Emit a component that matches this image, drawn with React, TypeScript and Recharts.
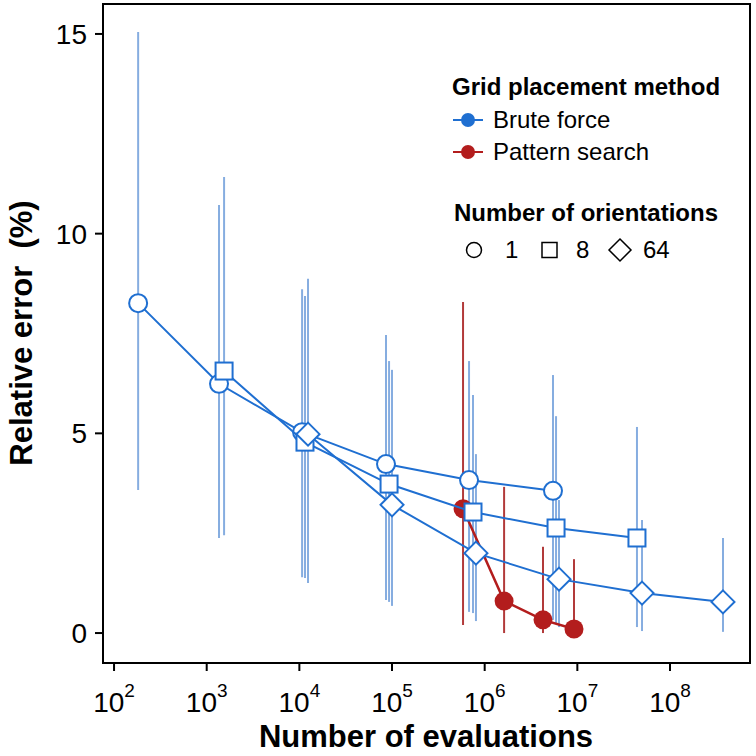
import { ScatterChart, Scatter, XAxis, YAxis, ErrorBar, Legend, ReferenceArea } from 'recharts';

const FONT = '"Liberation Sans", Arial, sans-serif';
const BLUE = '#1f6fd1';
const WHISKER_BLUE = '#86ade0';
const RED = '#b31d1d';
const WHISKER_RED = '#b23a3a';

// axis ranges (log10 x from ~1.88 to ~8.86)
const xDomain = [76, 7.3e8];
const xTicks = [1e2, 1e3, 1e4, 1e5, 1e6, 1e7, 1e8];
const yDomain = [-0.75, 15.75];
const yTicks = [0, 5, 10, 15];

// brute force, 1 orientation
const orient1X = [182, 1358, 10700, 86100, 678000, 5460000];
const orient1Y = [8.26, 6.24, 5.03, 4.23, 3.83, 3.56];
const orient1Lo = [3.58, 2.38, 1.4, 0.83, 0.53, 0.33];
const orient1Hi = [15.05, 10.72, 8.61, 7.46, 6.81, 6.46];

// brute force, 8 orientations
const orient8X = [1540, 11500, 92900, 748000, 5890000, 44000000];
const orient8Y = [6.56, 4.78, 3.73, 3.03, 2.63, 2.38];
const orient8Lo = [2.45, 1.38, 0.78, 0.5, 0.25, 0.15];
const orient8Hi = [11.42, 8.44, 6.81, 5.96, 5.43, 5.16];

// brute force, 64 orientations
const orient64X = [12400, 100000, 805000, 6340000, 49900000, 373000000];
const orient64Y = [4.98, 3.21, 2.0, 1.35, 1.0, 0.78];
const orient64Lo = [1.25, 0.68, 0.3, 0.15, 0.05, 0.03];
const orient64Hi = [8.87, 6.59, 4.48, 3.33, 2.83, 2.38];

// pattern search
const patternX = [584000, 1620000, 4260000, 9200000];
const patternY = [3.11, 0.8, 0.33, 0.1];
const patternLo = [0.2, 0.0, 0.0, 0.08];
const patternHi = [8.29, 3.66, 2.16, 1.85];

const toRows = (xs: number[], ys: number[], lo: number[], hi: number[]) =>
  xs.map((x, i) => ({ x, y: ys[i], err: [ys[i] - lo[i], hi[i] - ys[i]] }));

const rows1 = toRows(orient1X, orient1Y, orient1Lo, orient1Hi);
const rows8 = toRows(orient8X, orient8Y, orient8Lo, orient8Hi);
const rows64 = toRows(orient64X, orient64Y, orient64Lo, orient64Hi);
const rowsPattern = toRows(patternX, patternY, patternLo, patternHi);

const noShape = () => <g />;
const hollowCircle = (p: any) => <circle cx={p.cx} cy={p.cy} r={9} fill="#fff" stroke={BLUE} strokeWidth={2} />;
const hollowSquare = (p: any) => (
  <rect x={p.cx - 8.5} y={p.cy - 8.5} width={17} height={17} fill="#fff" stroke={BLUE} strokeWidth={2} />
);
const hollowDiamond = (p: any) => (
  <polygon
    points={`${p.cx},${p.cy - 11.5} ${p.cx + 11.5},${p.cy} ${p.cx},${p.cy + 11.5} ${p.cx - 11.5},${p.cy}`}
    fill="#fff" stroke={BLUE} strokeWidth={2}
  />
);
const filledRed = (p: any) => <circle cx={p.cx} cy={p.cy} r={9.5} fill={RED} />;

const XTick = ({ x, y, payload }: any) => {
  const exp = Math.round(Math.log10(payload.value));
  return (
    <text x={x} y={y + 39} textAnchor="middle" fontSize={28} fill="#000">
      <tspan>10</tspan>
      <tspan dy={-15} fontSize={19}>{exp}</tspan>
    </text>
  );
};

const yTitle = () => (
  <text x={21} y={333} transform="rotate(-90, 21, 333)" textAnchor="middle" dominantBaseline="central"
    fontSize={31} fontWeight="bold" fill="#000" style={{ whiteSpace: 'pre' }}>
    Relative error  (%)
  </text>
);

const xTitle = () => (
  <text x={426} y={747} textAnchor="middle" fontSize={31} fontWeight="bold" fill="#000">
    Number of evaluations
  </text>
);

const abs = (left: number, top: number, extra: any = {}) => ({ position: 'absolute' as const, left, top, whiteSpace: 'nowrap' as const, lineHeight: 1, ...extra });

const renderLegend = () => (
  <div style={{ position: 'relative', width: 300, height: 220, fontFamily: FONT, color: '#000' }}>
    <div style={abs(12, 15, { fontSize: 24, fontWeight: 'bold' })}>Grid placement method</div>
    <svg style={abs(12, 52)} width={32} height={16}>
      <line x1={1} y1={8} x2={31} y2={8} stroke={BLUE} strokeWidth={2} />
      <circle cx={16} cy={8} r={7} fill={BLUE} />
    </svg>
    <div style={abs(53, 48, { fontSize: 24 })}>Brute force</div>
    <svg style={abs(12, 84)} width={32} height={16}>
      <line x1={1} y1={8} x2={31} y2={8} stroke={RED} strokeWidth={2} />
      <circle cx={16} cy={8} r={7} fill={RED} />
    </svg>
    <div style={abs(53, 80, { fontSize: 24 })}>Pattern search</div>
    <div style={abs(14, 141, { fontSize: 24, fontWeight: 'bold' })}>Number of orientations</div>
    <svg style={abs(24, 176)} width={200} height={28}>
      <circle cx={10} cy={14} r={7.5} fill="none" stroke="#000" strokeWidth={1.5} />
      <rect x={78} y={6.5} width={15} height={15} fill="none" stroke="#000" strokeWidth={1.5} />
      <polygon points="156,3 167,14 156,25 145,14" fill="none" stroke="#000" strokeWidth={1.5} />
    </svg>
    <div style={abs(65, 178, { fontSize: 24 })}>1</div>
    <div style={abs(136, 178, { fontSize: 24 })}>8</div>
    <div style={abs(203, 178, { fontSize: 24 })}>64</div>
  </div>
);

const axisStroke = { stroke: '#000', strokeWidth: 2 };

export default function App() {
  return (
    <div style={{ position: 'absolute', left: 0, top: 0, width: 756, height: 756, background: '#fff', fontFamily: FONT }}>
      <ScatterChart width={756} height={756} margin={{ top: 4, right: 6, bottom: 33, left: 33 }}>
        <XAxis dataKey="x" type="number" scale="log" domain={xDomain} allowDataOverflow ticks={xTicks}
          height={60} tickSize={8} axisLine={axisStroke} tickLine={axisStroke} tick={<XTick />}
          interval={0} label={xTitle} />
        <YAxis dataKey="y" type="number" domain={yDomain} allowDataOverflow ticks={yTicks} width={70}
          tickSize={8} tickMargin={8} axisLine={axisStroke} tickLine={axisStroke}
          tick={{ fontSize: 28, fill: '#000' }} interval={0} label={yTitle} />
        <Legend layout="vertical" align="center" verticalAlign="middle" content={renderLegend}
          wrapperStyle={{ left: 440, top: 60, width: 300, height: 220 }} />

        {/* plot frame */}
        <ReferenceArea x1={xDomain[0]} x2={xDomain[1]} y1={yDomain[0]} y2={yDomain[1]}
          fill="none" fillOpacity={0} stroke="#000" strokeWidth={2} strokeOpacity={1} />

        {/* whiskers underneath everything */}
        <Scatter data={rows1} shape={noShape} isAnimationActive={false} legendType="none">
          <ErrorBar dataKey="err" direction="y" width={0} stroke={WHISKER_BLUE} strokeWidth={2} isAnimationActive={false} />
        </Scatter>
        <Scatter data={rows8} shape={noShape} isAnimationActive={false} legendType="none">
          <ErrorBar dataKey="err" direction="y" width={0} stroke={WHISKER_BLUE} strokeWidth={2} isAnimationActive={false} />
        </Scatter>
        <Scatter data={rows64} shape={noShape} isAnimationActive={false} legendType="none">
          <ErrorBar dataKey="err" direction="y" width={0} stroke={WHISKER_BLUE} strokeWidth={2} isAnimationActive={false} />
        </Scatter>
        <Scatter data={rowsPattern} shape={noShape} isAnimationActive={false} legendType="none">
          <ErrorBar dataKey="err" direction="y" width={0} stroke={WHISKER_RED} strokeWidth={2} isAnimationActive={false} />
        </Scatter>

        <Scatter data={rowsPattern} shape={filledRed} line={{ stroke: RED, strokeWidth: 2.5 }} lineType="joint" isAnimationActive={false} />
        <Scatter data={rows1} shape={hollowCircle} line={{ stroke: BLUE, strokeWidth: 2 }} lineType="joint" isAnimationActive={false} />
        <Scatter data={rows8} shape={hollowSquare} line={{ stroke: BLUE, strokeWidth: 2 }} lineType="joint" isAnimationActive={false} />
        <Scatter data={rows64} shape={hollowDiamond} line={{ stroke: BLUE, strokeWidth: 2 }} lineType="joint" isAnimationActive={false} />
      </ScatterChart>
    </div>
  );
}
